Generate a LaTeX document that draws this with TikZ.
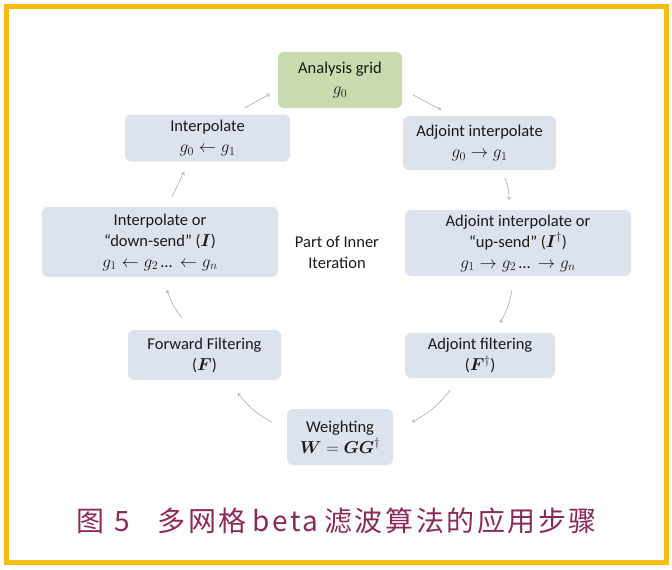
\documentclass[tikz,border=0pt]{standalone}
\usepackage{amsmath,bm}
\usepackage{fontspec}
\setmainfont{Carlito}
\newfontfamily\cjkfont[LetterSpace=9]{Noto Sans CJK SC}
\usepackage{tikz}
\usetikzlibrary{arrows, arrows.meta, calc}

\definecolor{boxblue}{HTML}{DCE3EE}
\definecolor{boxgreen}{HTML}{C8DCAE}
\definecolor{flowgray}{HTML}{9FACC0}
\definecolor{framegold}{HTML}{F6BE10}
\definecolor{capred}{HTML}{8C2A5A}

\tikzset{
	stepbox/.style={rectangle, rounded corners=6pt, fill=boxblue, align=center, text=black!90,
		font=\fontsize{16.5}{21}\selectfont, inner sep=2pt},
	flow/.style={-{To[length=3pt,width=4pt]}, draw=flowgray, line width=0.6pt}
}

\begin{document}
\begin{tikzpicture}[x=1pt, y=-1pt]
				\useasboundingbox (0,0) rectangle (672,570);
				
				% Frame
				\draw[framegold, line width=5pt] (6.5,6) rectangle (666,562.5);
				
				% Steps of the cycle
				\node[stepbox, fill=boxgreen, minimum width=124pt, minimum height=56pt] (grid) at (340,80) {Analysis grid\\ $g_0$};
				\node[stepbox, minimum width=153pt, minimum height=54pt] (adjint) at (479.5,143) {Adjoint interpolate\\ $g_0 \rightarrow g_1$};
				\node[stepbox, minimum width=226pt, minimum height=66pt] (upsend) at (518,243) {Adjoint interpolate or\\ “up-send" ($\bm{I}^\dagger$)\\ $g_1 \rightarrow g_2 \text{\,…\,} \rightarrow g_n$};
				\node[stepbox, minimum width=150pt, minimum height=45pt] (adjfilt) at (480,355.5) {Adjoint filtering\\ ($\bm{F}^\dagger$)};
				\node[stepbox, minimum width=106pt, minimum height=56pt] (weight) at (340,437) {Weighting\\ $\bm{W} = \bm{G}\bm{G}^\dagger$};
				\node[stepbox, minimum width=153pt, minimum height=50pt] (fwdfilt) at (204.5,355) {Forward Filtering\\ ($\bm{F}$)};
				\node[stepbox, minimum width=236pt, minimum height=70pt] (downsend) at (160,242) {Interpolate or\\ “down-send" ($\bm{I}$)\\ $g_1 \leftarrow g_2 \text{\,…\,} \leftarrow g_n$};
				\node[stepbox, minimum width=165pt, minimum height=47pt] (interp) at (207.5,138) {Interpolate\\ $g_0 \leftarrow g_1$};
				
				% Middle label
				\node[align=center, text=black!90, font=\fontsize{16.5}{21}\selectfont] (inner) at (337,252) {Part of Inner\\ Iteration};
				
				% Arrows between the steps
				\draw[flow] ($(grid.east)+(11,15)$) -- ($(adjint.north)+(-38.5,-6)$);
				\draw[flow] ($(adjint.south)+(25.5,8)$) to[bend left=10] ($(upsend.north)+(-9,-10)$);
				\draw[flow] ($(upsend.south)+(-6,14)$) to[bend left=10] ($(adjfilt.north)+(20,-10)$);
				\draw[flow] ($(adjfilt.south)+(-30,12)$) to[bend left=12] ($(weight.east)+(19,-15)$);
				\draw[flow] ($(weight.west)+(-15,-15)$) to[bend left=12] ($(fwdfilt.south)+(33.5,13)$);
				\draw[flow] ($(fwdfilt.north)+(-22.5,-12)$) to[bend left=10] ($(downsend.south)+(7,13)$);
				\draw[flow] ($(downsend.north)+(12,-10)$) -- ($(interp.south)+(-23.5,10.5)$);
				\draw[flow] ($(interp.north)+(37.5,-6.5)$) -- ($(grid.west)+(-8,14)$);
				
				% Caption
				\node[anchor=west, text=capred, inner sep=0pt, font=\cjkfont\fontsize{28}{28}\selectfont] (caption) at (76,521)
					{图\hspace{10pt}5\hspace{28pt}多网格\hspace{6pt}beta\hspace{6pt}滤波算法的应用步骤};
\end{tikzpicture}
\end{document}
